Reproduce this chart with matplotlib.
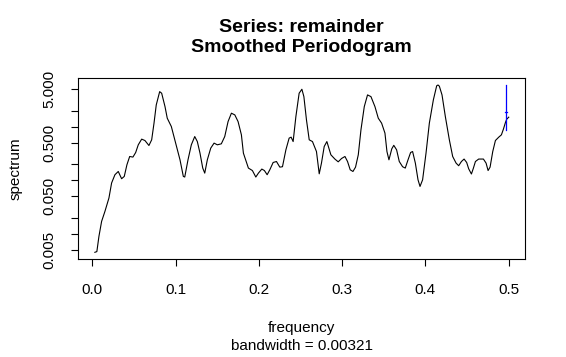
import matplotlib
matplotlib.use("Agg")
import matplotlib.pyplot as plt

plt.rcParams['font.family'] = ['Liberation Sans', 'DejaVu Sans']

# smoothed periodogram of the remainder series
freq = [0.0032, 0.0056, 0.0081, 0.0113, 0.0153, 0.0201, 0.0233, 0.0273, 0.0313, 0.0353,
        0.0385, 0.0417, 0.0450, 0.0489, 0.0522, 0.0553, 0.0594, 0.0633, 0.0681, 0.0714,
        0.0742, 0.0769, 0.0810, 0.0834, 0.0874, 0.0901, 0.0950, 0.1002, 0.1054, 0.1094,
        0.1111, 0.1150, 0.1190, 0.1231, 0.1262, 0.1294, 0.1327, 0.1351, 0.1382, 0.1423,
        0.1463, 0.1502, 0.1550, 0.1591, 0.1631, 0.1671, 0.1712, 0.1751, 0.1791, 0.1815,
        0.1835, 0.1875, 0.1923, 0.1964, 0.1995, 0.2036, 0.2067, 0.2100, 0.2132, 0.2172,
        0.2212, 0.2252, 0.2284, 0.2325, 0.2364, 0.2388, 0.2412, 0.2445, 0.2484, 0.2517,
        0.2541, 0.2572, 0.2605, 0.2644, 0.2692, 0.2725, 0.2752, 0.2785, 0.2817, 0.2865,
        0.2913, 0.2953, 0.2993, 0.3034, 0.3065, 0.3097, 0.3130, 0.3161, 0.3194, 0.3226,
        0.3266, 0.3305, 0.3346, 0.3394, 0.3434, 0.3474, 0.3514, 0.3538, 0.3562, 0.3596,
        0.3620, 0.3654, 0.3686, 0.3726, 0.3758, 0.3791, 0.3822, 0.3846, 0.3879, 0.3911,
        0.3935, 0.3966, 0.4007, 0.4047, 0.4095, 0.4135, 0.4151, 0.4167, 0.4199, 0.4239,
        0.4287, 0.4327, 0.4368, 0.4399, 0.4432, 0.4464, 0.4495, 0.4519, 0.4552, 0.4576,
        0.4600, 0.4639, 0.4696, 0.4728, 0.4752, 0.4776, 0.4808, 0.4840, 0.4880, 0.4912,
        0.4936, 0.4960, 0.4976, 0.5000]
spec = [0.00453, 0.00467, 0.0090, 0.0171, 0.0263, 0.0467, 0.089, 0.127, 0.146, 0.107,
        0.118, 0.195, 0.278, 0.271, 0.330, 0.459, 0.586, 0.552, 0.446, 0.569,
        1.164, 2.55, 4.51, 4.21, 2.37, 1.44, 1.007, 0.494, 0.241, 0.118,
        0.115, 0.241, 0.459, 0.655, 0.528, 0.321, 0.169, 0.136, 0.241, 0.398,
        0.494, 0.459, 0.479, 0.655, 1.247, 1.786, 1.66, 1.247, 0.705, 0.321,
        0.259, 0.169, 0.152, 0.115, 0.136, 0.162, 0.152, 0.127, 0.157, 0.215,
        0.224, 0.176, 0.179, 0.370, 0.612, 0.638, 0.528, 1.545, 4.21, 5.0,
        3.64, 1.34, 0.569, 0.528, 0.344, 0.132, 0.209, 0.427, 0.528, 0.299,
        0.249, 0.221, 0.255, 0.278, 0.224, 0.157, 0.146, 0.176, 0.299, 0.873,
        2.37, 3.92, 3.64, 2.37, 1.44, 1.164, 0.759, 0.344, 0.241, 0.386,
        0.449, 0.370, 0.224, 0.179, 0.169, 0.241, 0.330, 0.344, 0.209, 0.102,
        0.0768, 0.102, 0.321, 1.164, 3.16, 5.8, 6.0, 5.7, 3.92, 1.545,
        0.569, 0.278, 0.209, 0.187, 0.224, 0.249, 0.215, 0.164, 0.131, 0.169,
        0.224, 0.249, 0.249, 0.209, 0.152, 0.176, 0.344, 0.552, 0.638, 0.705,
        0.900, 1.194, 1.381, 1.506]

bandwidth = 0.00321
conf_lim = [0.142, 1.0]   # lower/upper CI factors relative to max(spec)
conf_frac = 0.312         # position of cross tick relative to max(spec)

ytick_vals = [0.005, 0.01, 0.02, 0.05, 0.1, 0.2, 0.5, 1, 2, 5]
ytick_labels = ['0.005', '', '', '0.050', '', '', '0.500', '', '', '5.000']
xtick_vals = [0.0, 0.1, 0.2, 0.3, 0.4, 0.5]


def main():
    W, H = 566, 357
    fig = plt.figure(figsize=(W / 100, H / 100), dpi=100)
    ax = fig.add_axes([78.3 / W, 1 - 259 / H, (525.3 - 78.3) / W, (259 - 78.3) / H])

    ax.plot(freq, spec, color='black', lw=0.8)
    ax.set_yscale('log')

    # blue confidence bar, drawn R-style near the right edge
    smax = max(spec)
    cx = max(freq) - bandwidth
    ax.plot([cx, cx], [smax * conf_lim[0], smax * conf_lim[1]], color='blue', lw=0.9)
    ax.plot([cx - bandwidth / 2, cx + bandwidth / 2], [smax * conf_frac] * 2,
            color='blue', lw=0.9)

    ax.margins(x=0.04, y=0.04)
    ax.set_yticks(ytick_vals)
    ax.set_yticklabels(ytick_labels)
    ax.minorticks_off()
    ax.set_xticks(xtick_vals)
    ax.set_xticklabels([f'{v:.1f}' for v in xtick_vals])

    ax.tick_params(direction='out', length=5, width=0.8, labelsize=11, pad=12)
    ax.tick_params(axis='y', labelrotation=90, pad=11)
    for lab in ax.get_yticklabels():
        lab.set_va('center')
    for sp in ax.spines.values():
        sp.set_linewidth(0.8)

    cx_fig = (78.3 + 525.3) / 2 / W
    fig.text(cx_fig, 1 - 28 / H, 'Series: remainder', ha='center', va='center',
             fontsize=14, fontweight='bold')
    fig.text(cx_fig, 1 - 48 / H, 'Smoothed Periodogram', ha='center', va='center',
             fontsize=14, fontweight='bold')
    fig.text(cx_fig, 1 - 328 / H, 'frequency', ha='center', va='center', fontsize=11)
    fig.text(cx_fig, 1 - 346.5 / H, 'bandwidth = 0.00321', ha='center', va='center',
             fontsize=11)
    fig.text(16 / W, 1 - 168.7 / H, 'spectrum', rotation=90, ha='center', va='center',
             fontsize=11)

    fig.savefig('out.png', dpi=100)


if __name__ == "__main__":
    main()
